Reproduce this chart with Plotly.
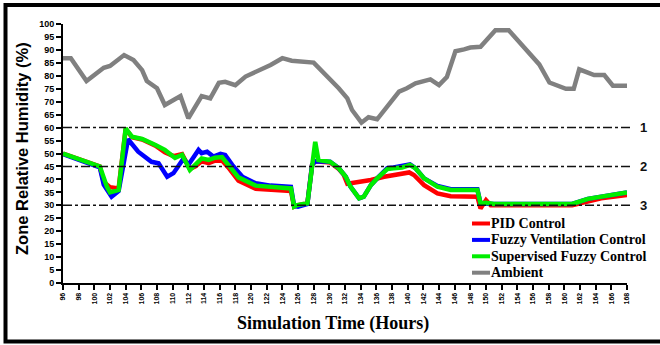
import plotly.graph_objects as go

# ---- data -------------------------------------------------------------
amb_t = [96, 97, 99, 100, 101.2, 102, 103.8, 105, 106.1, 106.7, 108, 109, 111, 112,
         113.7, 114.8, 115.9, 116.7, 118, 119.3, 120.8, 122.5, 124, 125.2, 128, 129.1,
         130.1, 131.2, 132.3, 132.9, 134.1, 135, 136.1, 137.6, 138.9, 139.9, 141, 142.9,
         144, 145, 146.1, 147.2, 148, 149.3, 151.2, 152.9, 154.4, 155.7, 156.8, 158.1,
         159.3, 160.2, 161.2, 161.9, 163, 163.8, 165.1, 166.2, 168]
amb_v = [86.8, 86.8, 78, 80.3, 83.1, 83.8, 88, 86.1, 82.2, 78, 75.2, 68.7, 72.2, 63.6,
         72.2, 71.3, 77.3, 77.7, 76.4, 79.7, 81.6, 84.2, 86.8, 85.8, 85.1, 81.6,
         79, 75.2, 71.3, 66.8, 61.9, 64, 63.2, 68.7, 73.9, 75.2, 77.1, 78.6,
         76.4, 79.5, 89.5, 90.2, 90.9, 91.2, 97.6, 97.6, 92.5, 88, 84.4, 77.4,
         75.8, 75, 75, 82.5, 81.2, 80.3, 80.3, 76.2, 76.2]

pid_t = [96, 100.7, 101.2, 102, 103.1, 104, 104.8, 106.1, 107.8, 109, 110.1, 111.2,
         112.2, 112.9, 113.7, 114.6, 115.4, 116.3, 117.1, 118.4, 120.6, 122.5, 125.1,
         125.5, 125.9, 127.2, 127.8, 128.2, 130.1, 131.2, 131.8, 132.3, 134, 135.3, 137,
         138.7, 140.2, 140.8, 142.1, 143.8, 145.5, 148.9, 149.3, 150, 150.6, 161, 164.7, 168]
pid_v = [50, 45, 39, 37, 36.5, 59.5, 56.3, 55.4, 53, 50.5, 49, 49.8,
         44, 45, 47, 46.3, 47.2, 47.3, 44.6, 39.5, 36.4, 35.9, 35.5,
         29.5, 30, 30.8, 45.6, 47, 46.5, 44, 42, 38.3, 39.1, 39.8, 41,
         41.7, 42.7, 41.7, 37.8, 34.6, 33.5, 33.3, 28.8, 32, 30, 30, 32.7, 34]

fvc_t = [96, 100.7, 101.2, 102.2, 103.1, 104.3, 105.6, 107.3, 108.2, 109.3, 110.1, 111.4,
         112, 113.3, 113.7, 114.4, 115.2, 116.1, 116.7, 117.6, 118.9, 120.6, 122.5, 125.1,
         125.5, 126, 127.2, 127.8, 128.2, 130.1, 131.2, 132.1, 132.7, 133.8, 134.4, 135.3,
         136.1, 137.4, 138.2, 139.3, 140.3, 141, 142.1, 143.8, 145.5, 148.9, 149.3, 151,
         161, 163, 165, 168]
fvc_v = [49.8, 44.6, 38, 33.3, 35.5, 55.5, 50.7, 46.8, 46.2, 41, 42.4, 48.1,
         45.6, 51.4, 50.1, 50.7, 48.8, 49.9, 49.4, 45.6, 41, 38.5, 37.6, 37.1,
         29.8, 29.5, 30.5, 45.6, 47, 46.8, 44.3, 41, 37.2, 32.7, 33.3, 37.8,
         40.4, 44.3, 44.6, 45, 45.8, 44.3, 40.4, 37.5, 36.2, 36.2, 30.8, 30.5,
         30.5, 32.5, 33.5, 35]

sfc_t = [96, 100.7, 101.6, 102, 103.1, 104, 104.8, 106.1, 107.8, 109, 110.3, 111.2,
         112.2, 112.9, 113.7, 114.6, 115.4, 116.3, 117.1, 118.4, 120.6, 122.5, 125.1,
         125.5, 125.9, 127.2, 127.8, 128.2, 128.6, 130.1, 131.2, 132.1, 132.7, 133.8,
         134.4, 135.3, 136.1, 137.4, 138.2, 139.3, 140.3, 141, 142.1, 143.8, 145.5,
         148.9, 149.3, 150, 151, 161, 163, 165, 168]
sfc_v = [50, 45, 37.2, 35, 35.9, 59.7, 56.5, 55.6, 53.3, 51.4, 48.3, 49.5,
         43.6, 45.6, 48.1, 47.5, 48.4, 48.6, 45.8, 40.8, 37.6, 37, 36.5,
         29.5, 30.1, 30.8, 45.6, 54.5, 47.5, 46.8, 44.3, 41, 37.2, 32.7,
         33.3, 37.8, 40.4, 44, 44.3, 44.6, 45.6, 44.3, 40.4, 37.2, 35.9,
         35.9, 30.8, 31, 30.5, 30.5, 32.5, 33.5, 35]

limit_levels = [60, 45, 30]
limit_names = ["1", "2", "3"]
x_ticks = list(range(96, 169, 2))
y_ticks = list(range(0, 101, 5))

# ---- geometry helpers (pixel -> paper) --------------------------------
L, R, T, B, W, H = 63, 33, 24, 62, 660, 345
PW, PH = W - L - R, H - T - B


def px(x):
    return (x - L) / PW


def py(y):
    return (H - B - y) / PH


# ---- figure -----------------------------------------------------------
fig = go.Figure()
series = [
    ("PID Control", pid_t, pid_v, "#ff0000", 4.5),
    ("Fuzzy Ventilation Control", fvc_t, fvc_v, "#0000ff", 4.5),
    ("Supervised Fuzzy Control", sfc_t, sfc_v, "#00ee00", 4.5),
    ("Ambient", amb_t, amb_v, "#808080", 4.5),
]
for name, t, v, color, w in series:
    fig.add_trace(go.Scatter(x=t, y=v, mode="lines", name=name, showlegend=False,
                             line=dict(color=color, width=w)))

shapes = []
annotations = []
for lvl, lab in zip(limit_levels, limit_names):
    shapes.append(dict(type="line", xref="paper", yref="y", x0=0, x1=px(631),
                       y0=lvl, y1=lvl, line=dict(color="#111", width=1.5, dash="dashdot")))
    annotations.append(dict(text=lab, xref="paper", yref="y", x=px(643), y=lvl,
                            showarrow=False, xanchor="center", yanchor="middle",
                            font=dict(family="Liberation Sans", size=13, color="#111", weight="bold")))

# legend key: short line sample + label per series
for i, (name, t, v, color, w) in enumerate(series):
    yk = 223.5 + i * 16.4
    shapes.append(dict(type="line", xref="paper", yref="paper", x0=px(472), x1=px(490),
                       y0=py(yk), y1=py(yk), line=dict(color=color, width=4)))
    annotations.append(dict(text=name, xref="paper", yref="paper", x=px(489), y=py(yk),
                            showarrow=False, xanchor="left", yanchor="middle",
                            font=dict(family="Liberation Serif", size=14, color="black", weight="bold")))

# outer frame
shapes.append(dict(type="rect", xref="paper", yref="paper",
                   x0=px(5.5), x1=px(665), y0=py(341.5), y1=py(5),
                   line=dict(color="black", width=4), layer="above"))

annotations.append(dict(text="Simulation Time (Hours)", xref="paper", yref="paper",
                        x=px(333), y=py(323), showarrow=False,
                        xanchor="center", yanchor="middle",
                        font=dict(family="Liberation Serif", size=18, color="black", weight="bold")))
annotations.append(dict(text="Zone Relative Humidity (%)", xref="paper", yref="paper",
                        x=px(22), y=py(149), showarrow=False, textangle=-90,
                        xanchor="center", yanchor="middle",
                        font=dict(family="Liberation Sans", size=16.5, color="black", weight="bold")))

fig.update_layout(
    width=W, height=H,
    margin=dict(l=L, r=R, t=T, b=B),
    paper_bgcolor="white", plot_bgcolor="white",
    shapes=shapes, annotations=annotations,
    xaxis=dict(range=[96, 168], tickvals=x_ticks, ticktext=[str(v) for v in x_ticks],
               tickangle=-90, ticks="outside", ticklen=5, tickwidth=1.5, tickcolor="black",
               showline=True, linecolor="black", linewidth=2, showgrid=False, zeroline=False,
               tickfont=dict(family="Liberation Sans", size=7, color="black", weight="bold")),
    yaxis=dict(range=[0, 100], tickvals=y_ticks, ticks="outside", ticklen=5, tickwidth=1.5,
               tickcolor="black", showline=True, linecolor="black", linewidth=2,
               showgrid=False, zeroline=False,
               tickfont=dict(family="Liberation Sans", size=9, color="black", weight="bold")),
)

fig.write_html("out.html")
